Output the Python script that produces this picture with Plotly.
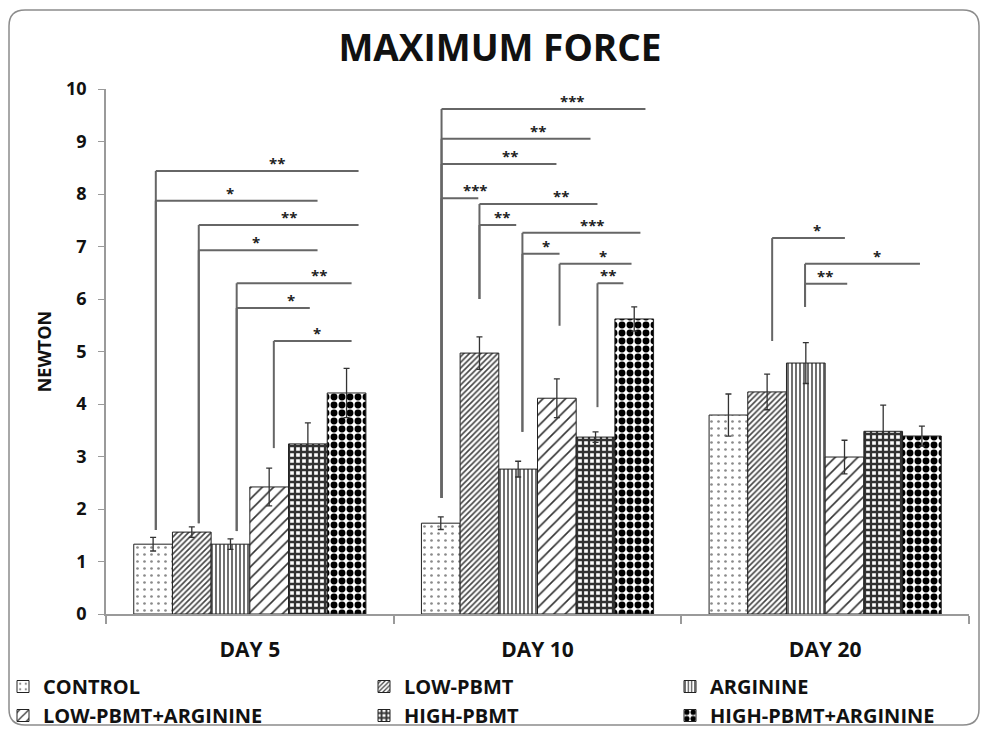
import plotly.graph_objects as go

# ---------------- data ----------------
DAYS = ["DAY 5", "DAY 10", "DAY 20"]
GROUPS = ["CONTROL", "LOW-PBMT", "ARGININE", "LOW-PBMT+ARGININE", "HIGH-PBMT", "HIGH-PBMT+ARGININE"]

CONTROL = [1.33, 1.73, 3.79]
CONTROL_ERR = [0.13, 0.12, 0.40]
LOW_PBMT = [1.56, 4.97, 4.23]
LOW_PBMT_ERR = [0.10, 0.31, 0.34]
ARGININE = [1.33, 2.76, 4.78]
ARGININE_ERR = [0.10, 0.15, 0.39]
LOW_PBMT_ARG = [2.42, 4.11, 2.99]
LOW_PBMT_ARG_ERR = [0.36, 0.37, 0.32]
HIGH_PBMT = [3.24, 3.37, 3.48]
HIGH_PBMT_ERR = [0.40, 0.10, 0.50]
HIGH_PBMT_ARG = [4.21, 5.62, 3.39]
HIGH_PBMT_ARG_ERR = [0.47, 0.23, 0.19]

Y_TICKS = [0, 1, 2, 3, 4, 5, 6, 7, 8, 9, 10]

# significance brackets: day index, start bar position, bottom of vertical,
# level of horizontal, end bar position, label, label bar position
BR_DAY = [0, 0, 0, 0, 0, 0, 0,
          1, 1, 1, 1, 1, 1, 1, 1, 1, 1,
          2, 2, 2]
BR_START = [0.07, 0.07, 1.18, 1.18, 2.16, 2.16, 3.12,
            0.02, 0.02, 0.02, 0.02, 1.0, 1.0, 2.11, 2.11, 3.07, 4.05,
            1.13, 1.98, 1.98]
BR_BOTTOM = [1.60, 1.60, 1.73, 1.73, 1.58, 1.58, 3.16,
             2.21, 2.21, 2.21, 2.21, 6.00, 6.00, 3.47, 3.47, 5.49, 3.94,
             5.20, 5.85, 5.85]
BR_LEVEL = [8.44, 7.87, 7.41, 6.93, 6.30, 5.83, 5.20,
            9.62, 9.05, 8.57, 7.92, 7.81, 7.41, 7.26, 6.86, 6.67, 6.30,
            7.16, 6.67, 6.29]
BR_END = [5.31, 4.25, 5.31, 4.25, 5.13, 4.05, 5.13,
          5.29, 3.87, 2.99, 0.97, 4.05, 1.95, 5.16, 3.07, 4.93, 4.72,
          3.01, 4.95, 3.07]
BR_LABEL = ["**", "*", "**", "*", "**", "*", "*",
            "***", "**", "**", "***", "**", "**", "***", "*", "*", "**",
            "*", "*", "**"]
BR_LABEL_POS = [3.2, 2.0, 3.5, 2.65, 4.3, 3.56, 4.23,
                3.4, 2.5, 1.8, 0.9, 3.12, 1.59, 3.92, 2.73, 4.18, 4.31,
                2.29, 3.84, 2.5]

# ---------------- styling ----------------
FONT = "Open Sans"
BW = 0.1345  # bar width in category units
LINE_GREY = "#666666"

series = [
    (CONTROL, CONTROL_ERR, dict(shape=".", fgcolor="#8a8a8a", bgcolor="white", size=7, solidity=0.12)),
    (LOW_PBMT, LOW_PBMT_ERR, dict(shape="/", fgcolor="#444444", bgcolor="white", size=4, solidity=0.4)),
    (ARGININE, ARGININE_ERR, dict(shape="|", fgcolor="#333333", bgcolor="white", size=4, solidity=0.35)),
    (LOW_PBMT_ARG, LOW_PBMT_ARG_ERR, dict(shape="/", fgcolor="#333333", bgcolor="white", size=8, solidity=0.2)),
    (HIGH_PBMT, HIGH_PBMT_ERR, dict(shape="+", fgcolor="#333333", bgcolor="white", size=6, solidity=0.62)),
    (HIGH_PBMT_ARG, HIGH_PBMT_ARG_ERR, dict(shape=".", fgcolor="black", bgcolor="white", size=8, solidity=0.58)),
]
legend_of = ["legend", "legend2", "legend3", "legend", "legend2", "legend3"]


def bar_x(day, pos):
    return day + (pos - 2.5) * BW


fig = go.Figure()
for k, (vals, errs, pat) in enumerate(series):
    fig.add_trace(go.Bar(
        x=[bar_x(d, k) for d in range(len(DAYS))],
        y=vals,
        width=BW,
        name=GROUPS[k],
        legend=legend_of[k],
        marker=dict(color="white", line=dict(color="#222222", width=1),
                    pattern=dict(fillmode="replace", **pat)),
        error_y=dict(type="data", array=errs, visible=True, color="#333333",
                     thickness=1.3, width=3),
    ))

# brackets
for i in range(len(BR_DAY)):
    d = BR_DAY[i]
    xs = bar_x(d, BR_START[i])
    xe = bar_x(d, BR_END[i])
    fig.add_shape(type="line", xref="x", yref="y", x0=xs, x1=xs,
                  y0=BR_BOTTOM[i], y1=BR_LEVEL[i],
                  line=dict(color=LINE_GREY, width=2))
    fig.add_shape(type="line", xref="x", yref="y", x0=xs, x1=xe,
                  y0=BR_LEVEL[i], y1=BR_LEVEL[i],
                  line=dict(color=LINE_GREY, width=2))
    fig.add_annotation(x=bar_x(d, BR_LABEL_POS[i]), y=BR_LEVEL[i], xref="x", yref="y",
                       text=f"<b>{BR_LABEL[i]}</b>", showarrow=False, yanchor="bottom",
                       yshift=-4, font=dict(family=FONT, size=15, color="#222222"))

# geometry in pixels
W, H = 987, 731
ML, MR, MT, MB = 106, 18, 89, 117
PW, PH = W - ML - MR, H - MT - MB


def px_x(px):
    return (px - ML) / PW


def px_y(py):
    return (H - MB - py) / PH


# rounded border round the chart
x0, x1, y0, y1, r = 9, 979, 10, 725, 16
path = (f"M {px_x(x0 + r)},{px_y(y0)} L {px_x(x1 - r)},{px_y(y0)} "
        f"Q {px_x(x1)},{px_y(y0)} {px_x(x1)},{px_y(y0 + r)} "
        f"L {px_x(x1)},{px_y(y1 - r)} Q {px_x(x1)},{px_y(y1)} {px_x(x1 - r)},{px_y(y1)} "
        f"L {px_x(x0 + r)},{px_y(y1)} Q {px_x(x0)},{px_y(y1)} {px_x(x0)},{px_y(y1 - r)} "
        f"L {px_x(x0)},{px_y(y0 + r)} Q {px_x(x0)},{px_y(y0)} {px_x(x0 + r)},{px_y(y0)} Z")
fig.add_shape(type="path", xref="paper", yref="paper", path=path,
              line=dict(color="#8c8c8c", width=1.5), layer="below")

leg_common = dict(orientation="v", yanchor="top", xanchor="left",
                  font=dict(family=FONT, size=20, color="#111111", weight="bold"),
                  bgcolor="rgba(0,0,0,0)", tracegroupgap=0, itemwidth=30)

fig.update_layout(
    width=W, height=H,
    margin=dict(l=ML, r=MR, t=MT, b=MB, autoexpand=False),
    paper_bgcolor="white", plot_bgcolor="white",
    font=dict(family=FONT, color="#111111"),
    title=dict(text="<b>MAXIMUM FORCE</b>", xref="container", yref="container",
               x=500 / W, y=1 - 48 / H, xanchor="center", yanchor="middle",
               font=dict(family=FONT, size=37, color="#111111")),
    showlegend=True,
    legend=dict(x=px_x(3), y=px_y(667), **leg_common),
    legend2=dict(x=px_x(364), y=px_y(667), **leg_common),
    legend3=dict(x=px_x(670), y=px_y(667), **leg_common),
    xaxis=dict(range=[-0.5, 2.5], tickvals=[0, 1, 2], ticktext=[f"<b>{d}</b>" for d in DAYS],
               ticks="", showgrid=False, zeroline=False, showline=True,
               linecolor="#9a9a9a", linewidth=1.5, ticklabelstandoff=16,
               tickfont=dict(family=FONT, size=21, color="#111111"),
               minor=dict(ticks="outside", tick0=-0.5, dtick=1, ticklen=8,
                          tickcolor="#9a9a9a", tickwidth=1.5, showgrid=False)),
    yaxis=dict(range=[0, 10], tickvals=Y_TICKS, ticktext=[f"<b>{t}</b>" for t in Y_TICKS],
               ticks="outside", ticklen=6, tickcolor="#9a9a9a", showgrid=False,
               zeroline=False, showline=True, linecolor="#9a9a9a", linewidth=1.5,
               ticklabelstandoff=8,
               tickfont=dict(family=FONT, size=18, color="#111111"),
               title=dict(text="<b>NEWTON</b>", standoff=10,
                          font=dict(family=FONT, size=18, color="#111111"))),
)

fig.write_html("out.html", config={"displayModeBar": False},
               post_script="document.body.style.margin='0px';document.body.style.overflow='hidden';")
